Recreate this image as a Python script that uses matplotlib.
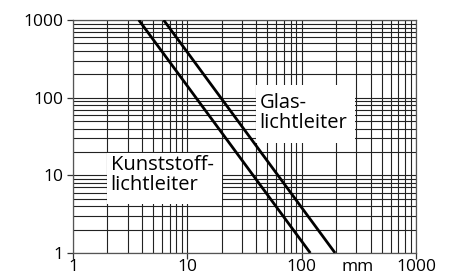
import matplotlib
matplotlib.use('Agg')
import matplotlib.pyplot as plt
from matplotlib.patches import Rectangle
from matplotlib.ticker import LogLocator, NullFormatter, FixedFormatter, FixedLocator

plt.rcParams['font.family'] = ['Open Sans', 'DejaVu Sans']
plt.rcParams['font.size'] = 12.5

# Daten
kunststoff_x = [3.76, 119]
kunststoff_y = [1000, 1]
glas_x = [6.2, 196]
glas_y = [1000, 1]

tick_werte = [1, 10, 100, 1000]
tick_labels = ['1', '10', '100', '1000']

fig = plt.figure(figsize=(4.52, 2.80), dpi=100)
ax = fig.add_axes([0.1615, 0.0964, 0.7589, 0.8322])

ax.set_xscale('log')
ax.set_yscale('log')
ax.set_xlim(1, 1000)
ax.set_ylim(1, 1000)

# Gitter
ax.xaxis.set_major_locator(FixedLocator(tick_werte))
ax.yaxis.set_major_locator(FixedLocator(tick_werte))
ax.xaxis.set_major_formatter(FixedFormatter(tick_labels))
ax.yaxis.set_major_formatter(FixedFormatter(tick_labels))
ax.xaxis.set_minor_locator(LogLocator(base=10, subs=range(2, 10)))
ax.yaxis.set_minor_locator(LogLocator(base=10, subs=range(2, 10)))
ax.xaxis.set_minor_formatter(NullFormatter())
ax.yaxis.set_minor_formatter(NullFormatter())
ax.set_axisbelow(True)
ax.grid(True, which='both', color='#222222', linewidth=0.8)

ax.tick_params(which='major', direction='out', length=4, width=0.9, color='#333333')
ax.tick_params(axis='x', which='major', pad=0.5)
ax.tick_params(axis='y', which='major', pad=3)
ax.tick_params(which='minor', length=0)
for s in ax.spines.values():
    s.set_color('#555555')
    s.set_linewidth(0.9)

# weiße Beschriftungsflächen
ax.add_patch(Rectangle((0.5335, 0.472), 0.2885, 0.249, transform=ax.transAxes,
                       facecolor='white', edgecolor='none', zorder=1))
ax.add_patch(Rectangle((0.099, 0.210), 0.335, 0.219, transform=ax.transAxes,
                       facecolor='white', edgecolor='none', zorder=1))

ax.plot(kunststoff_x, kunststoff_y, color='black', linewidth=2.0, zorder=3,
        solid_capstyle='butt')
ax.plot(glas_x, glas_y, color='black', linewidth=2.0, zorder=3,
        solid_capstyle='butt')

ax.text(0.543, 0.600, 'Glas-\nlichtleiter', transform=ax.transAxes,
        ha='left', va='center', linespacing=1.0, fontsize=14.5, zorder=2)
ax.text(0.110, 0.335, 'Kunststoff-\nlichtleiter', transform=ax.transAxes,
        ha='left', va='center', linespacing=1.0, fontsize=14.5, zorder=2)

# Einheit auf Höhe der Achsenbeschriftung
ax.annotate('mm', xy=(0.831, 0), xycoords='axes fraction',
            xytext=(0, -4.5), textcoords='offset points', ha='center', va='top')

fig.savefig('out.png', dpi=100, facecolor='white')
